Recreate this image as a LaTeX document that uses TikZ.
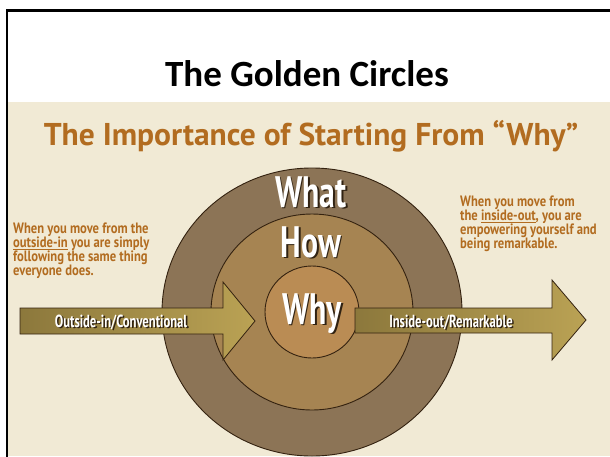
\documentclass[tikz,border=0pt]{standalone}
\usepackage{fontspec}
\setmainfont{Carlito}
\newfontfamily\grunge[FakeStretch=0.72]{PT Sans}
\newfontfamily\grungenote[FakeStretch=0.84]{PT Sans}
\newfontfamily\grungewide{PT Sans}
\usetikzlibrary{positioning}
\definecolor{parchment}{RGB}{241,234,213}
\definecolor{rust}{RGB}{178,108,32}
\definecolor{ringout}{RGB}{140,116,86}
\definecolor{ringmid}{RGB}{166,132,82}
\definecolor{ringin}{RGB}{186,140,84}
\definecolor{rim}{RGB}{52,34,16}
\definecolor{brassdark}{RGB}{140,120,60}
\definecolor{brasslight}{RGB}{186,162,84}
\definecolor{shade}{RGB}{48,34,18}
% white lettering with a dark offset copy underneath
\newcommand{\shtext}[1]{\rlap{\kern1.6pt\raisebox{-1.6pt}{\textcolor{shade}{#1}}}#1}

\begin{document}
\begin{tikzpicture}[x=1pt,y=-1pt,every node/.style={inner sep=0pt},
  ring/.style={draw=rim,line width=0.9pt},
  band/.style={draw=rim,line width=0.8pt,left color=brassdark,right color=brasslight},
  big/.style={font=\grunge\bfseries\fontsize{44}{44}\selectfont,text=white,anchor=base},
  tag/.style={font=\grunge\bfseries\fontsize{17.5}{17.5}\selectfont,text=white,anchor=base},
  note/.style={font=\grungenote\bfseries\fontsize{15}{14}\selectfont,text=rust,align=left,
               anchor=north west}]

\useasboundingbox (0,0) rectangle (610,456);
\clip (0,0) rectangle (610,456);
\fill[white] (0,0) rectangle (610,456);
\fill[parchment] (8,102) rectangle (610,456);
\draw[line width=2.5pt] (7,470) -- (7,10.5) -- (620,10.5);

\node[font=\bfseries\fontsize{37}{37}\selectfont,anchor=base] (title) at (307,86) {The Golden Circles};
\node[font=\grungewide\bfseries\fontsize{31.5}{31.5}\selectfont,text=rust,anchor=base] (sub) at (311,145)
  {The Importance of Starting From “Why”};

% the three rings
\coordinate (c) at (312,312);
\draw[ring,fill=ringout] (c) ellipse (150 and 144);
\draw[ring,fill=ringmid] (c) ellipse (101 and 98);
\draw[ring,fill=ringin]  (c) ellipse (47 and 46);

% the two block arrows
\draw[band] (20,308) -- (223,308) -- (223,282) -- (255,321) -- (223,360) -- (223,334) -- (20,334) -- cycle;
\draw[band] (355,308) -- (552,308) -- (552,280) -- (586,320) -- (552,360) -- (552,333) -- (355,333) -- cycle;

\node[tag] (outin) at (121,327) {\shtext{Outside-in/Conventional}};
\node[tag] (inout) at (451,327) {\shtext{Inside-out/Remarkable}};

\node[big] (what) at (311,207) {\shtext{What}};
\node[big] (how)  at (311,257) {\shtext{How}};
\node[big] (why)  at (312,324) {\shtext{Why}};

\node[note] (left)  at (13,223) {When you move from the\\\underline{outside-in} you are simply\\
  following the same thing\\everyone does.};
\node[note] (right) at (460,196) {When you move from\\the \underline{inside-out}, you are\\
  empowering yourself and\\being remarkable.};
\end{tikzpicture}
\end{document}
